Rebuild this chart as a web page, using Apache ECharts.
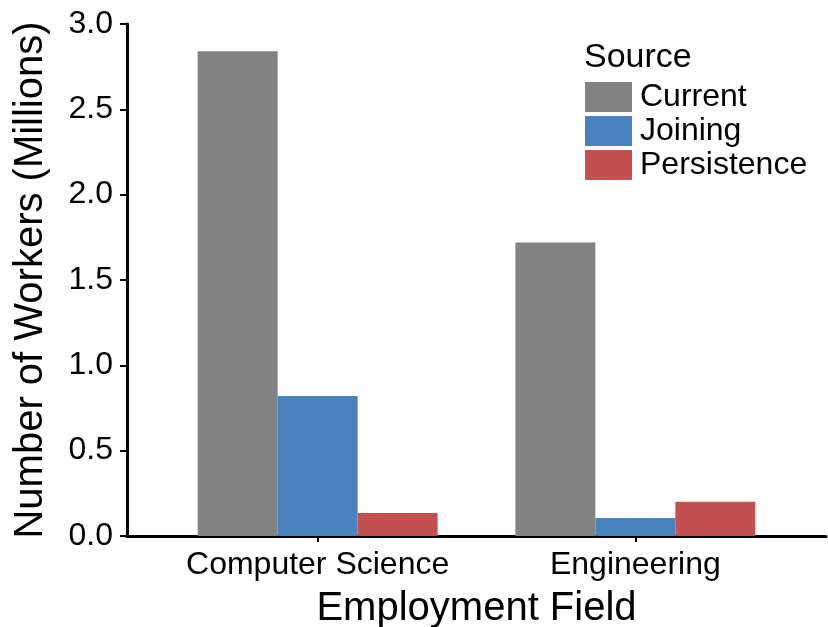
<!DOCTYPE html>
<html>
<head>
<meta charset="utf-8">
<script src="https://cdn.jsdelivr.net/npm/echarts@6/dist/echarts.min.js"></script>
<style>
  html, body { margin: 0; padding: 0; background: #fff; }
  #chart { width: 828px; height: 627px; }
</style>
</head>
<body>
<div id="chart"></div>
<script>
// Employment fields along the x axis
const categories = ['Computer Science', 'Engineering'];
// Workers in millions, per source
const currentValues = [2.84, 1.72];
const joiningValues = [0.82, 0.105];
const persistenceValues = [0.135, 0.20];
const seriesNames = ['Current', 'Joining', 'Persistence'];
const seriesColors = ['#828280', '#4a82c1', '#c4504f'];
const yTicks = ['0.0', '0.5', '1.0', '1.5', '2.0', '2.5', '3.0'];

const FONT = 'Liberation Sans, Arial, Helvetica, sans-serif';
const chart = echarts.init(document.getElementById('chart'));

// Each field sits at position i + 1 on a continuous axis padded by 0.6 on either side
const positions = categories.map((c, i) => i + 1);
const toPoints = vals => vals.map((v, i) => [positions[i], v]);

const allValues = [currentValues, joiningValues, persistenceValues];

chart.setOption({
  animation: false,
  backgroundColor: '#fff',
  title: {
    text: 'Source',
    left: 579,
    top: 36,
    textStyle: { fontFamily: FONT, fontSize: 34, fontWeight: 'normal', color: '#000' }
  },
  legend: {
    orient: 'vertical',
    left: 580,
    top: 76,
    itemWidth: 47,
    itemHeight: 30,
    itemGap: 2,
    icon: 'rect',
    data: seriesNames,
    textStyle: { fontFamily: FONT, fontSize: 32, color: '#000', padding: [7, 0, 0, 3] }
  },
  grid: { left: 127, right: 2, top: 24, bottom: 91, containLabel: false, outerBoundsMode: 'none' },
  xAxis: {
    type: 'value',
    min: 0.4,
    max: 2.6,
    name: 'Employment Field',
    nameLocation: 'middle',
    nameGap: 53,
    nameTextStyle: { fontFamily: FONT, fontSize: 40, color: '#000' },
    splitLine: { show: false },
    axisLine: { show: true, onZero: false, lineStyle: { color: '#000', width: 3 } },
    axisTick: { show: true, customValues: positions, length: 6, lineStyle: { color: '#000', width: 2 } },
    axisLabel: {
      customValues: positions,
      formatter: v => categories[Math.round(v) - 1] || '',
      fontFamily: FONT, fontSize: 32, color: '#000', margin: 13
    }
  },
  yAxis: {
    type: 'value',
    min: 0,
    max: 3,
    interval: 0.5,
    name: 'Number of Workers (Millions)',
    nameLocation: 'middle',
    nameGap: 76,
    nameTextStyle: { fontFamily: FONT, fontSize: 40, color: '#000' },
    splitLine: { show: false },
    axisLine: { show: true, lineStyle: { color: '#000', width: 3 } },
    axisTick: { show: true, length: 7, lineStyle: { color: '#000', width: 2 } },
    axisLabel: {
      formatter: v => yTicks[Math.round(v / 0.5)],
      fontFamily: FONT, fontSize: 32, color: '#000', margin: 14
    }
  },
  series: seriesNames.map((name, k) => ({
    name,
    type: 'bar',
    data: toPoints(allValues[k]),
    barWidth: 80,
    barGap: '0%',
    itemStyle: { color: seriesColors[k] }
  }))
});
</script>
</body>
</html>
